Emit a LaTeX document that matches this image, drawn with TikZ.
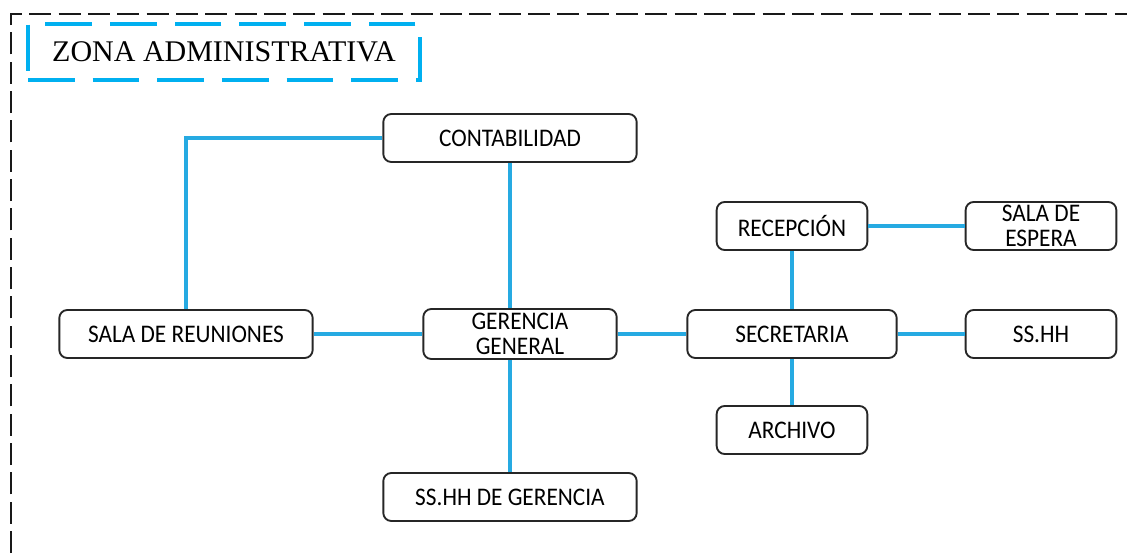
\documentclass[tikz,border=0pt]{standalone}
\usepackage{fontspec}
\setmainfont{Liberation Serif}
\newfontfamily\carlito[FakeStretch=0.92]{Carlito}
\usetikzlibrary{positioning,calc}
\definecolor{zonablue}{RGB}{0,176,240}
\definecolor{linkblue}{RGB}{38,170,226}

\begin{document}
\begin{tikzpicture}[
    x=0.75pt, y=-0.75pt,
    room/.style={draw=black!85, line width=1.4pt, rounded corners=6pt, fill=white,
        minimum height=36pt, inner sep=0pt, align=center,
        font=\carlito\fontsize{19}{19}\selectfont},
    wide/.style={room, minimum width=190pt},
    small/.style={room, minimum width=113pt},
    link/.style={linkblue, line width=2.3pt},
    zone/.style={draw=zonablue, line width=3.7pt, dash pattern=on 35pt off 13.5pt,
        minimum width=294pt, minimum height=42pt, inner sep=0pt,
        font=\fontsize{22.5}{25}\selectfont}
]
\useasboundingbox (0,0) rectangle (1127,553);
\draw[black!90, line width=2pt, dash pattern=on 16.5pt off 5.5pt] (11,553) -- (11,14) -- (1127,14);
\node[zone] (title) at (224,52) {ZONA ADMINISTRATIVA};

\node[wide] (contab) at (510,138) {CONTABILIDAD};
\node[wide] (reun) at (186,334) {SALA DE REUNIONES};
\node[room, minimum width=145pt, minimum height=37.5pt] (gg) at (520,334) {GERENCIA\\GENERAL};
\node[room, minimum width=157pt] (secre) at (792,334) {SECRETARIA};
\node[small] (recep) at (792,226) {RECEPCIÓN};
\node[small] (espera) at (1041,226) {SALA DE\\ESPERA};
\node[small] (sshh) at (1041,334) {SS.HH};
\node[small] (archivo) at (792,430) {ARCHIVO};
\node[wide] (ssger) at (510,497) {SS.HH DE GERENCIA};

\draw[link] (reun.north) |- (contab.west);
\draw[link] (contab.south) -- (contab.south |- gg.north);
\draw[link] (ssger.north) -- (ssger.north |- gg.south);
\draw[link] (reun.east) -- (gg.west);
\draw[link] (gg.east) -- (secre.west);
\draw[link] (secre.north) -- (recep.south);
\draw[link] (recep.east) -- (espera.west);
\draw[link] (secre.east) -- (sshh.west);
\draw[link] (secre.south) -- (archivo.north);
\end{tikzpicture}
\end{document}
